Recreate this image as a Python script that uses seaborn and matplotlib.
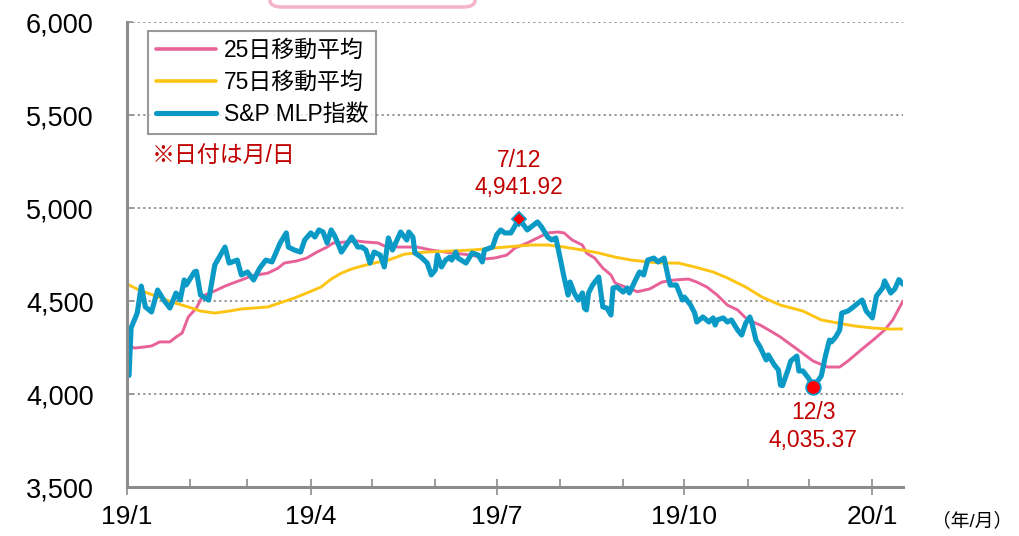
import matplotlib
matplotlib.use("Agg")
import matplotlib.pyplot as plt
import matplotlib.dates as mdates
import matplotlib.ticker as mticker
from matplotlib.patches import FancyBboxPatch
import pandas as pd
import seaborn as sns

# S&P MLP index (daily closes, sampled)
mlp_dates = [
    "2019-01-02", "2019-01-03", "2019-01-06", "2019-01-08", "2019-01-10", "2019-01-13",
    "2019-01-16", "2019-01-19", "2019-01-22", "2019-01-25", "2019-01-27", "2019-01-29",
    "2019-01-30", "2019-02-03", "2019-02-04", "2019-02-06", "2019-02-10", "2019-02-13",
    "2019-02-18", "2019-02-20", "2019-02-24", "2019-02-26", "2019-03-01", "2019-03-04",
    "2019-03-07", "2019-03-10", "2019-03-13", "2019-03-17", "2019-03-20", "2019-03-21",
    "2019-03-24", "2019-03-27", "2019-03-29", "2019-04-01", "2019-04-03", "2019-04-05",
    "2019-04-07", "2019-04-09", "2019-04-11", "2019-04-13", "2019-04-16", "2019-04-19",
    "2019-04-21", "2019-04-24", "2019-04-26", "2019-04-28", "2019-04-30", "2019-05-02",
    "2019-05-05", "2019-05-07", "2019-05-09", "2019-05-11", "2019-05-15", "2019-05-18",
    "2019-05-19", "2019-05-21", "2019-05-22", "2019-05-25", "2019-05-28", "2019-05-30",
    "2019-06-01", "2019-06-02", "2019-06-04", "2019-06-06", "2019-06-08", "2019-06-09",
    "2019-06-11", "2019-06-12", "2019-06-16", "2019-06-19", "2019-06-22", "2019-06-24",
    "2019-06-25", "2019-06-29", "2019-07-01", "2019-07-03", "2019-07-05", "2019-07-08",
    "2019-07-12", "2019-07-16", "2019-07-21", "2019-07-23", "2019-07-26", "2019-07-28",
    "2019-07-30", "2019-08-01", "2019-08-03", "2019-08-05", "2019-08-06", "2019-08-08",
    "2019-08-10", "2019-08-12", "2019-08-13", "2019-08-14", "2019-08-15", "2019-08-17",
    "2019-08-20", "2019-08-22", "2019-08-24", "2019-08-26", "2019-08-27", "2019-08-29",
    "2019-09-01", "2019-09-03", "2019-09-04", "2019-09-07", "2019-09-09", "2019-09-11",
    "2019-09-13", "2019-09-16", "2019-09-18", "2019-09-21", "2019-09-23", "2019-09-24",
    "2019-09-27", "2019-09-30", "2019-10-01", "2019-10-04", "2019-10-06", "2019-10-07",
    "2019-10-10", "2019-10-13", "2019-10-15", "2019-10-16", "2019-10-17", "2019-10-20",
    "2019-10-22", "2019-10-24", "2019-10-27", "2019-10-29", "2019-10-31", "2019-11-02",
    "2019-11-03", "2019-11-05", "2019-11-07", "2019-11-10", "2019-11-11", "2019-11-14",
    "2019-11-16", "2019-11-17", "2019-11-18", "2019-11-21", "2019-11-22", "2019-11-25",
    "2019-11-26", "2019-11-28", "2019-12-01", "2019-12-03", "2019-12-07", "2019-12-09",
    "2019-12-11", "2019-12-12", "2019-12-14", "2019-12-16", "2019-12-17", "2019-12-20",
    "2019-12-22", "2019-12-25", "2019-12-27", "2019-12-29", "2020-01-01", "2020-01-03",
    "2020-01-06", "2020-01-07", "2020-01-10", "2020-01-12", "2020-01-14", "2020-01-16",
]
mlp_values = [
    4100, 4355, 4435, 4580, 4468, 4441,
    4559, 4505, 4462, 4543, 4505, 4613,
    4586, 4656, 4660, 4532, 4505, 4694,
    4790, 4704, 4720, 4640, 4656, 4613,
    4677, 4720, 4710, 4812, 4866, 4790,
    4774, 4763, 4828, 4866, 4844, 4882,
    4871, 4812, 4882, 4844, 4763, 4812,
    4844, 4790, 4790, 4774, 4704, 4763,
    4747, 4683, 4839, 4774, 4871, 4828,
    4871, 4844, 4758, 4736, 4704, 4640,
    4667, 4747, 4683, 4720, 4736, 4720,
    4763, 4731, 4704, 4758, 4747, 4710,
    4774, 4790, 4855, 4882, 4866, 4866,
    4941.92, 4882, 4925, 4898, 4844, 4828,
    4839, 4736, 4629, 4532, 4602, 4543,
    4505, 4543, 4462, 4452, 4543, 4586,
    4629, 4468, 4462, 4425, 4570, 4575,
    4548, 4570, 4543, 4613, 4656, 4640,
    4720, 4731, 4710, 4731, 4629, 4586,
    4586, 4505, 4521, 4478, 4435, 4387,
    4414, 4387, 4409, 4371, 4398, 4409,
    4387, 4398, 4344, 4317, 4382, 4414,
    4382, 4290, 4253, 4183, 4210, 4156,
    4129, 4048, 4045, 4140, 4177, 4204,
    4124, 4124, 4081, 4035.37, 4097, 4204,
    4290, 4280, 4306, 4344, 4435, 4446,
    4462, 4489, 4505, 4446, 4409, 4527,
    4570, 4608, 4543, 4565, 4615, 4590,
]

# 25-day moving average
ma25_dates = [
    "2019-01-01", "2019-01-05", "2019-01-13", "2019-01-17", "2019-01-22", "2019-01-25",
    "2019-01-28", "2019-01-31", "2019-02-04", "2019-02-07", "2019-02-13", "2019-02-18",
    "2019-02-22", "2019-02-26", "2019-03-03", "2019-03-11", "2019-03-16", "2019-03-19",
    "2019-03-25", "2019-03-30", "2019-04-04", "2019-04-09", "2019-04-12", "2019-04-18",
    "2019-04-23", "2019-04-28", "2019-05-04", "2019-05-07", "2019-05-14", "2019-05-23",
    "2019-05-30", "2019-06-09", "2019-06-19", "2019-06-25", "2019-06-30", "2019-07-06",
    "2019-07-10", "2019-07-16", "2019-07-21", "2019-07-26", "2019-07-31", "2019-08-03",
    "2019-08-07", "2019-08-12", "2019-08-14", "2019-08-18", "2019-08-22", "2019-08-26",
    "2019-08-28", "2019-09-02", "2019-09-08", "2019-09-14", "2019-09-20", "2019-09-26",
    "2019-10-03", "2019-10-07", "2019-10-12", "2019-10-17", "2019-10-22", "2019-10-27",
    "2019-11-01", "2019-11-07", "2019-11-13", "2019-11-17", "2019-11-27", "2019-12-03",
    "2019-12-10", "2019-12-16", "2019-12-20", "2019-12-27", "2020-01-02", "2020-01-07",
    "2020-01-11", "2020-01-14", "2020-01-16",
]
ma25_values = [
    4258, 4247, 4258, 4280, 4280, 4306,
    4328, 4414, 4462, 4527, 4554, 4580,
    4597, 4613, 4635, 4650, 4677, 4704,
    4715, 4731, 4763, 4790, 4812, 4817,
    4823, 4817, 4812, 4796, 4790, 4790,
    4774, 4758, 4747, 4726, 4731, 4747,
    4785, 4812, 4839, 4866, 4871, 4866,
    4828, 4801, 4758, 4731, 4677, 4640,
    4597, 4575, 4550, 4565, 4602, 4613,
    4618, 4602, 4575, 4532, 4478, 4452,
    4398, 4371, 4333, 4306, 4226, 4177,
    4145, 4145, 4177, 4242, 4296, 4344,
    4398, 4460, 4500,
]

# 75-day moving average
ma75_dates = [
    "2019-01-01", "2019-01-07", "2019-01-15", "2019-01-23", "2019-01-31", "2019-02-06",
    "2019-02-13", "2019-02-20", "2019-02-26", "2019-03-04", "2019-03-11", "2019-03-18",
    "2019-03-24", "2019-03-30", "2019-04-06", "2019-04-11", "2019-04-16", "2019-04-21",
    "2019-04-26", "2019-05-02", "2019-05-09", "2019-05-17", "2019-05-27", "2019-06-09",
    "2019-06-19", "2019-06-30", "2019-07-12", "2019-07-18", "2019-07-26", "2019-08-03",
    "2019-08-12", "2019-08-20", "2019-08-28", "2019-09-05", "2019-09-13", "2019-09-20",
    "2019-09-28", "2019-10-06", "2019-10-15", "2019-10-22", "2019-10-31", "2019-11-08",
    "2019-11-17", "2019-11-28", "2019-12-07", "2019-12-15", "2019-12-23", "2020-01-01",
    "2020-01-09", "2020-01-16",
]
ma75_values = [
    4591, 4559, 4527, 4494, 4468, 4446,
    4435, 4446, 4457, 4462, 4468, 4494,
    4516, 4543, 4575, 4618, 4650, 4672,
    4688, 4704, 4720, 4752, 4763, 4769,
    4774, 4785, 4796, 4801, 4801, 4790,
    4774, 4758, 4736, 4720, 4710, 4704,
    4704, 4683, 4656, 4624, 4575, 4521,
    4478, 4446, 4398, 4382, 4366, 4355,
    4349, 4350,
]

peak_date, peak_value = "2019-07-12", 4941.92
low_date, low_value = "2019-12-03", 4035.37

series_labels = ["25日移動平均", "75日移動平均", "S&P MLP指数"]
x_start, x_end = "2019-01-01", "2020-01-16"

PINK = "#E8629A"
YELLOW = "#FDC414"
BLUE = "#0B9AC6"
RED_TEXT = "#C00000"
AXIS_GREY = "#8C8C8C"

sns.set_theme(style="white")
plt.rcParams["font.family"] = ["Liberation Sans", "Noto Sans CJK JP"]
plt.rcParams["axes.unicode_minus"] = False
plt.rcParams["text.color"] = "black"
plt.rcParams["xtick.color"] = "black"
plt.rcParams["ytick.color"] = "black"

mlp = pd.DataFrame({"date": pd.to_datetime(mlp_dates), "value": mlp_values})
ma25 = pd.DataFrame({"date": pd.to_datetime(ma25_dates), "value": ma25_values})
ma75 = pd.DataFrame({"date": pd.to_datetime(ma75_dates), "value": ma75_values})

fig = plt.figure(figsize=(10.2, 5.36), dpi=100)
ax = fig.add_axes([127 / 1020, 49 / 536, 776 / 1020, 465 / 536])

sns.lineplot(data=ma25, x="date", y="value", ax=ax, color=PINK, lw=2.1, label=series_labels[0])
sns.lineplot(data=ma75, x="date", y="value", ax=ax, color=YELLOW, lw=2.1, label=series_labels[1])
sns.lineplot(data=mlp, x="date", y="value", ax=ax, color=BLUE, lw=3.7, label=series_labels[2])

# highlighted high / low points
ax.plot(pd.Timestamp(peak_date), peak_value, marker="D", ms=7.5, mfc="#FF0000",
        mec=BLUE, mew=1.3, zorder=5)
ax.plot(pd.Timestamp(low_date), low_value, marker="o", ms=10.5, mfc="#FF0000",
        mec=BLUE, mew=1.3, zorder=5)
ax.annotate(f"7/12\n{peak_value:,.2f}", xy=(pd.Timestamp(peak_date), peak_value),
            xytext=(0, 14), textcoords="offset points", ha="center", va="bottom",
            fontsize=16.5, color=RED_TEXT, linespacing=1.25)
ax.annotate(f"12/3\n{low_value:,.2f}", xy=(pd.Timestamp(low_date), low_value),
            xytext=(0, -10), textcoords="offset points", ha="center", va="top",
            fontsize=16.5, color=RED_TEXT, linespacing=1.25)

ax.set_xlim(pd.Timestamp(x_start), pd.Timestamp(x_end))
ax.set_ylim(3500, 6000)
ax.set_xlabel("")
ax.set_ylabel("")

ax.yaxis.set_major_locator(mticker.MultipleLocator(500))
ax.yaxis.set_major_formatter(mticker.FuncFormatter(lambda v, p: f"{v:,.0f}"))
ax.xaxis.set_major_locator(mdates.MonthLocator(bymonth=[1, 4, 7, 10]))
ax.xaxis.set_minor_locator(mdates.MonthLocator())
ax.xaxis.set_major_formatter(
    mticker.FuncFormatter(lambda v, p: f"{mdates.num2date(v).year % 100}/{mdates.num2date(v).month}"))

ax.grid(False)
for yv in range(4000, 6001, 500):
    ax.axhline(yv, color=AXIS_GREY, lw=1.3, ls=(0, (1.2, 1.8)), zorder=0)

for side in ("top", "right"):
    ax.spines[side].set_visible(False)
for side in ("left", "bottom"):
    ax.spines[side].set_color(AXIS_GREY)
    ax.spines[side].set_linewidth(2.2)

ax.tick_params(axis="y", which="major", direction="in", length=4, width=1.2,
               color=AXIS_GREY, labelcolor="black", labelsize=19.5, pad=24, left=True)
ax.tick_params(axis="x", which="major", direction="inout", length=12, width=1.2,
               color=AXIS_GREY, labelcolor="black", labelsize=19, pad=7, bottom=True)
ax.tick_params(axis="x", which="minor", direction="in", length=6, width=1.2,
               color=AXIS_GREY, bottom=True)

leg = ax.legend(loc="upper left", bbox_to_anchor=(0.027, 0.981), borderaxespad=0,
                fontsize=16.5, frameon=True, fancybox=False, handlelength=2.6,
                labelspacing=0.4, handletextpad=0.35, borderpad=0.35)
leg.get_frame().set_edgecolor("#808080")
leg.get_frame().set_linewidth(1.5)
for line, lw in zip(leg.get_lines(), (2.6, 2.6, 3.7)):
    line.set_linewidth(lw)
    line.set_solid_capstyle("round")

fig.text(152 / 1020, 1 - 156 / 536, "※日付は月/日", fontsize=16.5, color=RED_TEXT,
         ha="left", va="center")
fig.text(1012 / 1020, 1 - 521 / 536, "（年/月）", fontsize=13.5, color="black",
         ha="right", va="center")

# rounded title frame at the top edge
fig.patches.append(FancyBboxPatch((270 / 1020, 1 - 7 / 536), 205 / 1020, 0.2,
                                  boxstyle="round,pad=0,rounding_size=0.012",
                                  transform=fig.transFigure, figure=fig,
                                  facecolor="white", edgecolor="#F4B4CC", lw=2.5))

fig.savefig("out.png", dpi=100)
